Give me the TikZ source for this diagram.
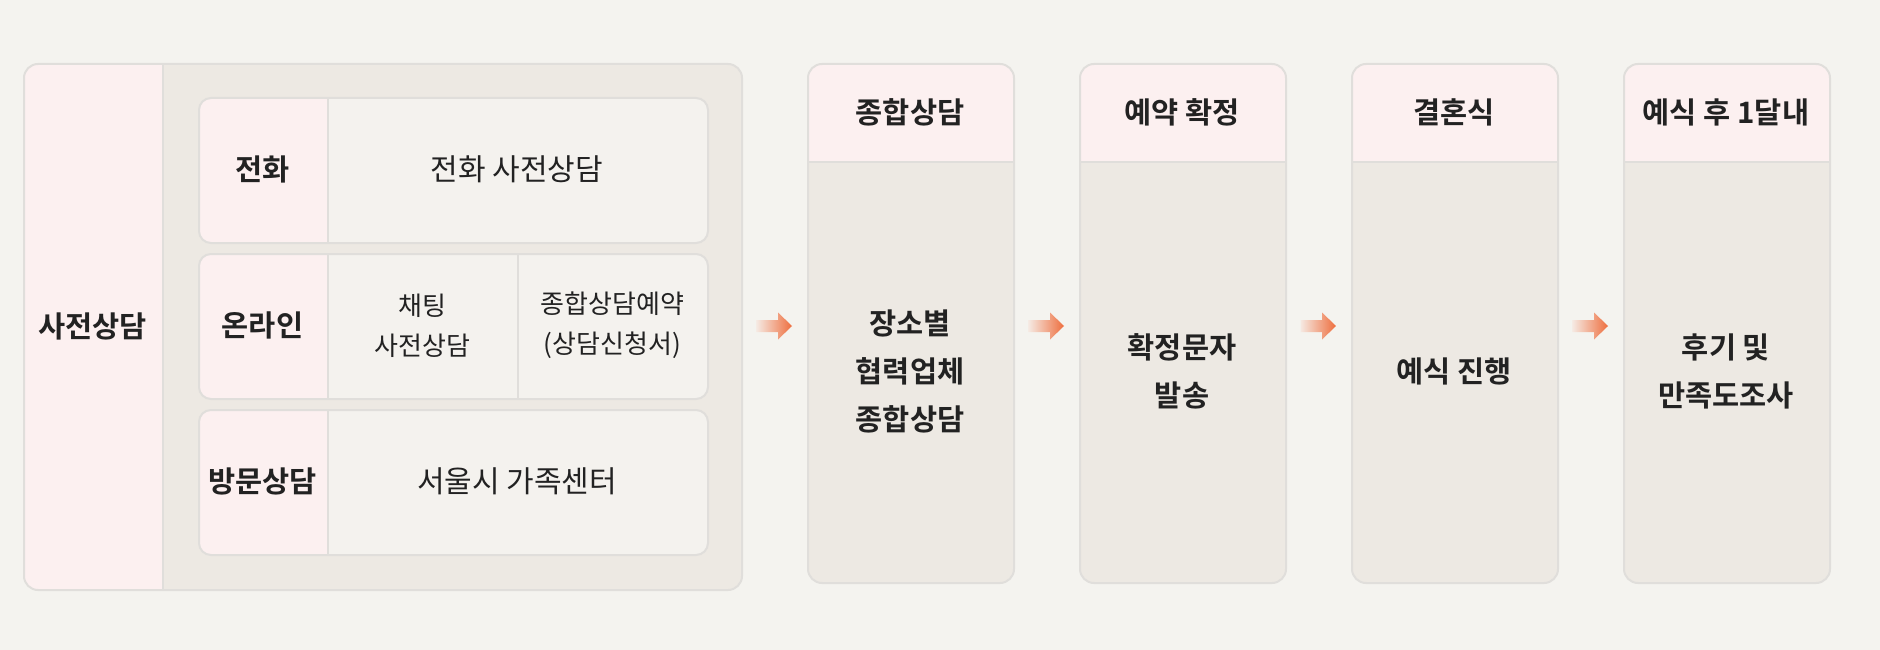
\documentclass[tikz,border=0pt]{standalone}
\usepackage{fontspec}
\setmainfont{Noto Sans CJK KR}[BoldFont={Noto Sans CJK KR Bold}]
\definecolor{bgC}{HTML}{F4F3EF}
\definecolor{bodyC}{HTML}{EDE9E3}
\definecolor{pinkC}{HTML}{FCF0F0}
\definecolor{cellC}{HTML}{F4F2EE}
\definecolor{lineC}{HTML}{E0DEDB}
\definecolor{txtC}{HTML}{222222}
\definecolor{arrL}{HTML}{F5E9E2}
\definecolor{arrR}{HTML}{EE6E3E}
\tikzset{
  panel/.style={draw=lineC, line width=2pt, fill=bodyC, rounded corners=14pt, inner sep=0pt, anchor=north west},
  rowbox/.style={draw=lineC, line width=2pt, fill=cellC, rounded corners=12pt, inner sep=0pt, anchor=north west,
    minimum width=509pt, minimum height=145pt,
    path picture={\fill[pinkC, sharp corners] (path picture bounding box.north west) rectangle ([xshift=129pt]path picture bounding box.south west);
      \draw[lineC, line width=2pt, sharp corners] ([xshift=129pt]path picture bounding box.north west) -- ([xshift=129pt]path picture bounding box.south west);}},
  colbox/.style={panel, minimum width=206pt, minimum height=519pt,
    path picture={\fill[pinkC, sharp corners] (path picture bounding box.north west) rectangle ([yshift=-98pt]path picture bounding box.north east);
      \draw[lineC, line width=2pt, sharp corners] ([yshift=-98pt]path picture bounding box.north west) -- ([yshift=-98pt]path picture bounding box.north east);}},
  boldtxt/.style={font=\fontsize{29.5}{48}\selectfont\bfseries, text=txtC, align=center, inner sep=0pt},
  regtxt/.style={font=\fontsize{30}{40}\selectfont, text=txtC, align=center, inner sep=0pt},
  smalltxt/.style={font=\fontsize{26}{40}\selectfont, text=txtC, align=center, inner sep=0pt},
  arrspot/.style={inner sep=0pt, minimum width=36pt, minimum height=27pt},
  arrfill/.style={left color=arrL, right color=arrR, draw=none},
}
\newcommand\flowarrow[1]{%
  \path[arrfill] ([shift={(-17.5,-6)}]#1.center) -- ([shift={(4,-6)}]#1.center) -- ([shift={(4,-13.5)}]#1.center)
    -- ([shift={(18,0)}]#1.center) -- ([shift={(4,13.5)}]#1.center) -- ([shift={(4,6)}]#1.center) -- ([shift={(-17.5,6)}]#1.center) -- cycle;}
\begin{document}
\begin{tikzpicture}[x=1pt, y=-1pt]
\fill[bgC] (0,0) rectangle (1880,650);
\useasboundingbox (0,0) rectangle (1880,650);

% left panel
\node[panel, minimum width=718pt, minimum height=526pt,
  path picture={\fill[pinkC, sharp corners] (path picture bounding box.north west) rectangle ([xshift=139pt]path picture bounding box.south west);
    \draw[lineC, line width=2pt, sharp corners] ([xshift=139pt]path picture bounding box.north west) -- ([xshift=139pt]path picture bounding box.south west);}]
  (outer) at (23,63) {};

\node[rowbox] (r1) at (198,97) {};
\node[rowbox] (r2) at (198,253) {};
\node[rowbox] (r3) at (198,409) {};
\draw[lineC, line width=2pt] ([xshift=320pt]r2.north west) -- ([xshift=320pt]r2.south west);

\node[boldtxt] (lbl) at (92.5,326) {사전상담};
\node[boldtxt] (t1) at (262.5,169.5) {전화};
\node[regtxt] (t1b) at (517,169.5) {전화 사전상담};
\node[boldtxt] (t2) at (262.5,325.5) {온라인};
\node[smalltxt] (t2b) at (422.5,325.5) {채팅\\사전상담};
\node[smalltxt] (t2c) at (612.5,325.5) {종합상담예약\\(상담신청서)};
\node[boldtxt] (t3) at (262.5,481.5) {방문상담};
\node[regtxt] (t3b) at (517,481.5) {서울시 가족센터};

% columns
\node[colbox] (c1) at (807,63) {};
\node[colbox] (c2) at (1079,63) {};
\node[colbox] (c3) at (1351,63) {};
\node[colbox] (c4) at (1623,63) {};

\node[boldtxt] (h1) at (910,112) {종합상담};
\node[boldtxt] (h2) at (1182,112) {예약 확정};
\node[boldtxt] (h3) at (1454,112) {결혼식};
\node[boldtxt] (h4) at (1726,112) {예식 후 1달내};

\node[boldtxt] (b1) at (910,371) {장소별\\협력업체\\종합상담};
\node[boldtxt] (b2) at (1182,371) {확정문자\\발송};
\node[boldtxt] (b3) at (1454,371) {예식 진행};
\node[boldtxt] (b4) at (1726,371) {후기 및\\만족도조사};

% arrows
\node[arrspot] (a1) at (774,326) {};
\node[arrspot] (a2) at (1046,326) {};
\node[arrspot] (a3) at (1318,326) {};
\node[arrspot] (a4) at (1590,326) {};
\flowarrow{a1}
\flowarrow{a2}
\flowarrow{a3}
\flowarrow{a4}
\end{tikzpicture}
\end{document}
